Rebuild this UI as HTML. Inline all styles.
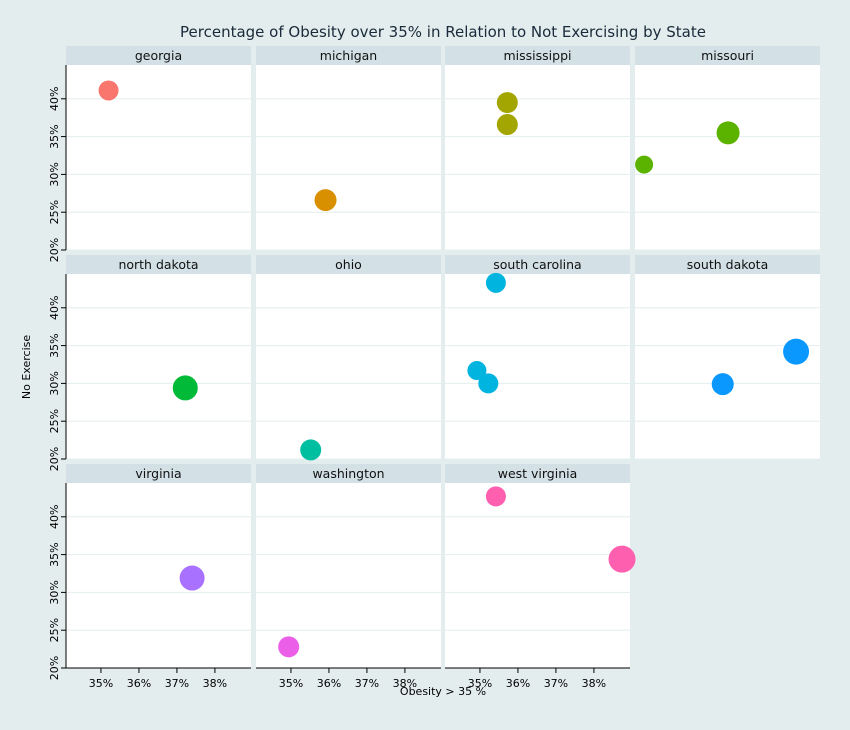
<!DOCTYPE html>
<html><head><meta charset="utf-8"><style>
body{margin:0;background:#E3EDED;}
svg{display:block;font-family:"DejaVu Sans","Liberation Sans",sans-serif;}
</style></head><body>
<svg id="c" width="850" height="730">
<rect width="850" height="730" fill="#E3EDED"/>
<text x="443" y="37" text-anchor="middle" font-size="15" fill="#1a2a3a">Percentage of Obesity over 35% in Relation to Not Exercising by State</text>
<text x="443" y="695" text-anchor="middle" font-size="11">Obesity &gt; 35 %</text>
<text transform="translate(30,367) rotate(-90)" text-anchor="middle" font-size="11">No Exercise</text>
<g id="g"></g>
</svg>
<script>
const states=["georgia","michigan","mississippi","missouri","north dakota","ohio","south carolina","south dakota","virginia","washington","west virginia"];
const colors=["#F8766D","#D89000","#A3A500","#5BB300","#00BA38","#00BFA0","#00B4E0","#0A98FF","#A871FF","#EB5FE8","#FF5FAF"];
const ptState=[0,1,2,2,3,3,4,5,6,6,6,7,7,8,9,10,10];
const obesity=[35.2,35.91,35.72,35.72,34.32,36.53,37.22,35.52,35.42,34.92,35.22,36.39,38.32,37.4,34.94,35.42,38.74];
const noExercise=[41.1,26.6,39.5,36.6,31.3,35.5,29.4,21.2,43.3,31.7,30.0,29.9,34.2,31.9,22.8,42.7,34.4];
const radius=[10,11,10.5,10.5,9,11.5,12.5,10.5,10,9.5,10,11,13,12.5,10.5,10,13.5];
const xTicks=[35,36,37,38];
const yTicks=[20,25,30,35,40];
const NS="http://www.w3.org/2000/svg",g=document.getElementById("g");
const colX=[66,256,445,635],rowY=[46,255,464],PW=185,SH=19,PH=185;
const xmin=34.08,xmax=38.95,ymin=20,ymax=44.47;
function mk(t,a,p){const e=document.createElementNS(NS,t);for(const k in a)e.setAttribute(k,a[k]);(p||g).appendChild(e);return e;}
function sx(v,ox){return ox+(v-xmin)/(xmax-xmin)*PW;}
function sy(v,oy){return oy+SH+PH-(v-ymin)/(ymax-ymin)*PH;}
states.forEach((s,i)=>{
 const c=i%4,r=Math.floor(i/4),ox=colX[c],oy=rowY[r];
 const pg=mk("g",{});
 
 
 mk("rect",{x:ox,y:oy,width:PW,height:SH,fill:"#D3E0E6"},pg);
 const st=mk("text",{x:ox+PW/2,y:oy+14,"text-anchor":"middle","font-size":"12.5",fill:"#111"},pg);st.textContent=s;
 mk("rect",{x:ox,y:oy+SH,width:PW,height:PH,fill:"#fff"},pg);
 yTicks.forEach(t=>{const y=sy(t,oy);mk("line",{x1:ox,x2:ox+PW,y1:y,y2:y,stroke:"#E3EEEE","stroke-width":1},pg);});
 const bottom=oy+SH+PH;
 if(c===0){
  mk("line",{x1:ox,x2:ox,y1:oy+SH,y2:bottom,stroke:"#000","stroke-width":1},pg);
  yTicks.forEach(t=>{const y=sy(t,oy);mk("line",{x1:ox-5,x2:ox,y1:y,y2:y,stroke:"#000"},pg);
   const tx=mk("text",{transform:`translate(${ox-8},${y}) rotate(-90)`,"text-anchor":"middle","font-size":"11"},pg);tx.textContent=t+"%";});
 }
 if(r===2){
  mk("line",{x1:ox,x2:ox+PW,y1:bottom,y2:bottom,stroke:"#000"},pg);
  xTicks.forEach(t=>{const x=sx(t,ox);mk("line",{x1:x,x2:x,y1:bottom,y2:bottom+5,stroke:"#000"},pg);
   const tx=mk("text",{x:x,y:bottom+19,"text-anchor":"middle","font-size":"11"},pg);tx.textContent=t+"%";});
 }
});
ptState.forEach((si,k)=>{
 const c=si%4,r=Math.floor(si/4);
 const e=mk("circle",{cx:sx(obesity[k],colX[c]),cy:sy(noExercise[k],rowY[r]),r:radius[k],fill:colors[si]});
 
 
});
</script>
</body></html>
